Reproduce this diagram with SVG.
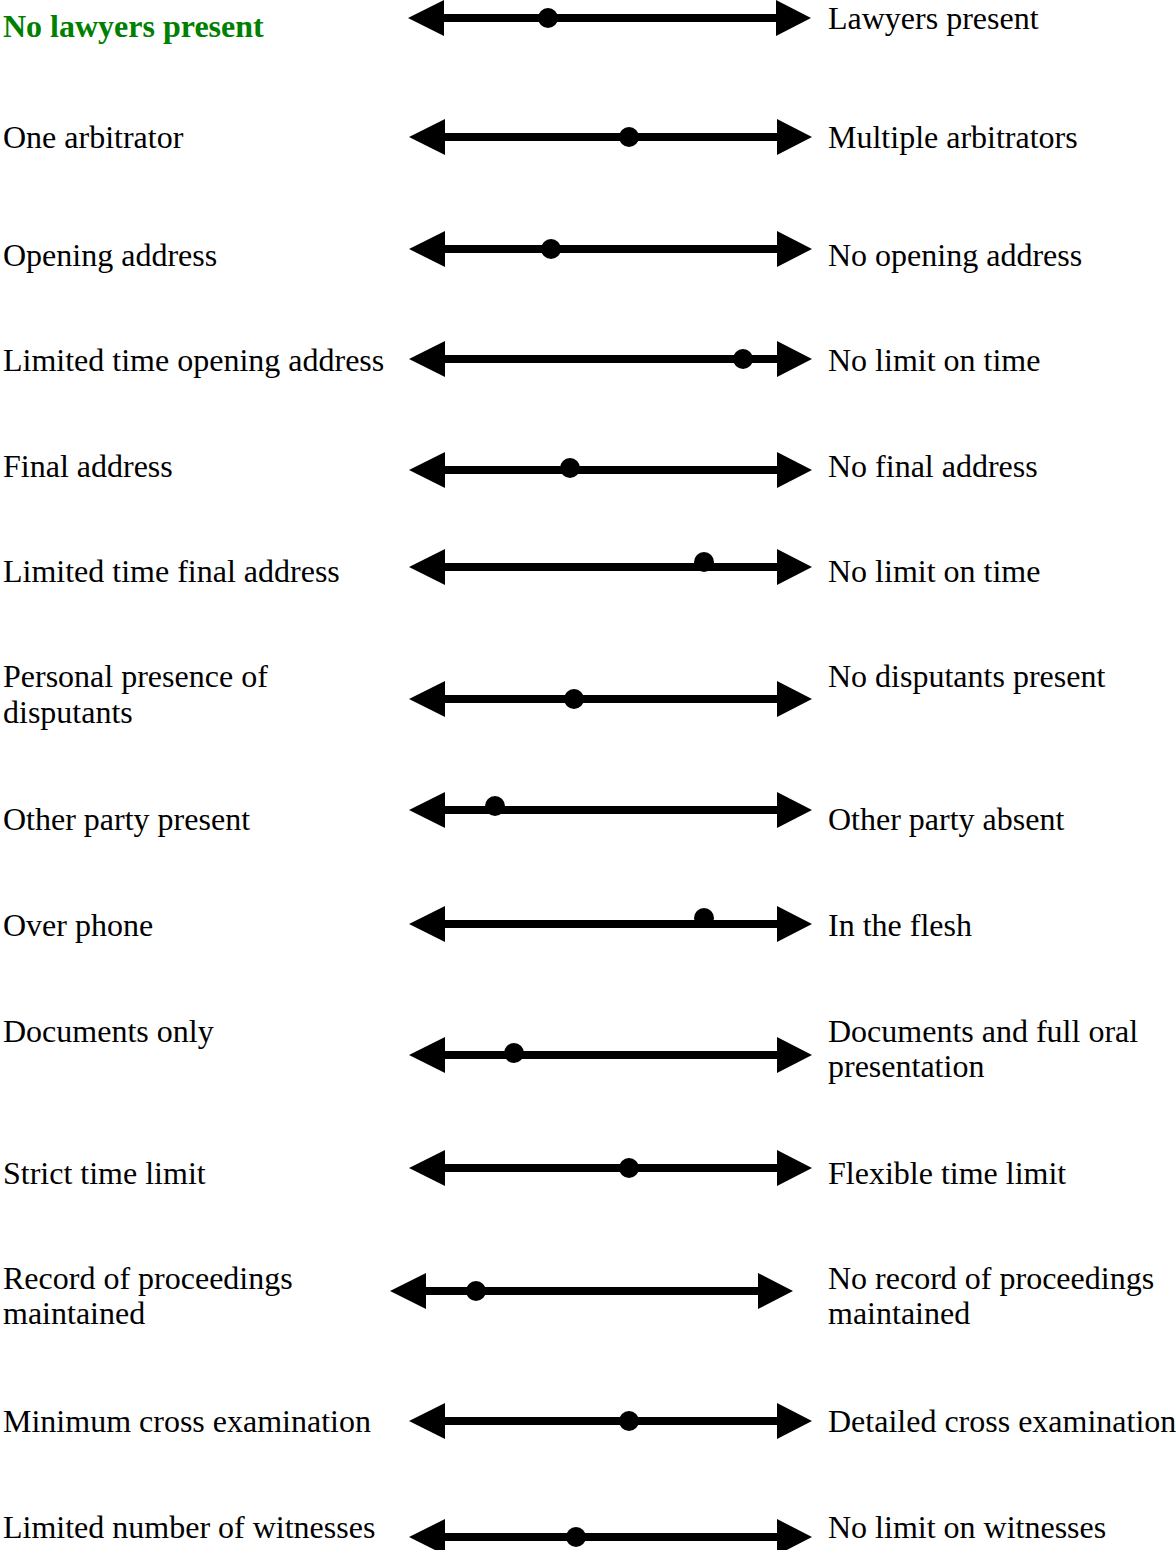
<svg xmlns="http://www.w3.org/2000/svg" xmlns:xlink="http://www.w3.org/1999/xlink" width="1176" height="1550" viewBox="0 0 1176 1550">
<style>
text{font-family:"Liberation Serif","Times New Roman",serif;font-size:32px;fill:#000}
.title{font-weight:bold;fill:#008000}
.dot{fill:#000}
</style>
<defs>
<path id="arrow" d="M0,0 L36,-18 L36,-4 L368,-4 L368,-18 L403,0 L368,18 L368,4 L36,4 L36,18 Z" fill="#000"/>
</defs>
<rect width="1176" height="1550" fill="#fff"/>
<g id="connectors">
<use xlink:href="#arrow" href="#arrow" x="408" y="18"/>
<use xlink:href="#arrow" href="#arrow" x="409" y="137"/>
<use xlink:href="#arrow" href="#arrow" x="409" y="249"/>
<use xlink:href="#arrow" href="#arrow" x="409" y="359"/>
<use xlink:href="#arrow" href="#arrow" x="409" y="470"/>
<use xlink:href="#arrow" href="#arrow" x="409" y="567"/>
<use xlink:href="#arrow" href="#arrow" x="409" y="699"/>
<use xlink:href="#arrow" href="#arrow" x="409" y="810"/>
<use xlink:href="#arrow" href="#arrow" x="409" y="924"/>
<use xlink:href="#arrow" href="#arrow" x="409" y="1055"/>
<use xlink:href="#arrow" href="#arrow" x="409" y="1168"/>
<use xlink:href="#arrow" href="#arrow" x="390" y="1291"/>
<use xlink:href="#arrow" href="#arrow" x="409" y="1421"/>
<use xlink:href="#arrow" href="#arrow" x="409" y="1537"/>
</g>
<g id="row1"><text class="title" x="3" y="37">No lawyers present</text><circle class="dot" cx="548" cy="18" r="10"/><text x="828" y="29">Lawyers present</text></g>
<g id="row2"><text x="3" y="148">One arbitrator</text><circle class="dot" cx="629" cy="137" r="10"/><text x="828" y="148">Multiple arbitrators</text></g>
<g id="row3"><text x="3" y="266">Opening address</text><circle class="dot" cx="551" cy="249" r="10"/><text x="828" y="266">No opening address</text></g>
<g id="row4"><text x="3" y="371">Limited time opening address</text><circle class="dot" cx="743" cy="359" r="10"/><text x="828" y="371">No limit on time</text></g>
<g id="row5"><text x="3" y="477">Final address</text><circle class="dot" cx="570" cy="468" r="10"/><text x="828" y="477">No final address</text></g>
<g id="row6"><text x="3" y="582">Limited time final address</text><circle class="dot" cx="704" cy="562" r="10"/><text x="828" y="582">No limit on time</text></g>
<g id="row7"><text x="3" y="687">Personal presence of</text><text x="3" y="723">disputants</text><circle class="dot" cx="574" cy="699" r="10"/><text x="828" y="687">No disputants present</text></g>
<g id="row8"><text x="3" y="830">Other party present</text><circle class="dot" cx="495" cy="806" r="10"/><text x="828" y="830">Other party absent</text></g>
<g id="row9"><text x="3" y="936">Over phone</text><circle class="dot" cx="704" cy="918" r="10"/><text x="828" y="936">In the flesh</text></g>
<g id="row10"><text x="3" y="1042">Documents only</text><circle class="dot" cx="514" cy="1053" r="10"/><text x="828" y="1042">Documents and full oral</text><text x="828" y="1077">presentation</text></g>
<g id="row11"><text x="3" y="1184">Strict time limit</text><circle class="dot" cx="629" cy="1168" r="10"/><text x="828" y="1184">Flexible time limit</text></g>
<g id="row12"><text x="3" y="1289">Record of proceedings</text><text x="3" y="1324">maintained</text><circle class="dot" cx="476" cy="1291" r="10"/><text x="828" y="1289">No record of proceedings</text><text x="828" y="1324">maintained</text></g>
<g id="row13"><text x="3" y="1432">Minimum cross examination</text><circle class="dot" cx="629" cy="1421" r="10"/><text x="828" y="1432">Detailed cross examination</text></g>
<g id="row14"><text x="3" y="1538">Limited number of witnesses</text><circle class="dot" cx="576" cy="1537" r="10"/><text x="828" y="1538">No limit on witnesses</text></g>
</svg>
